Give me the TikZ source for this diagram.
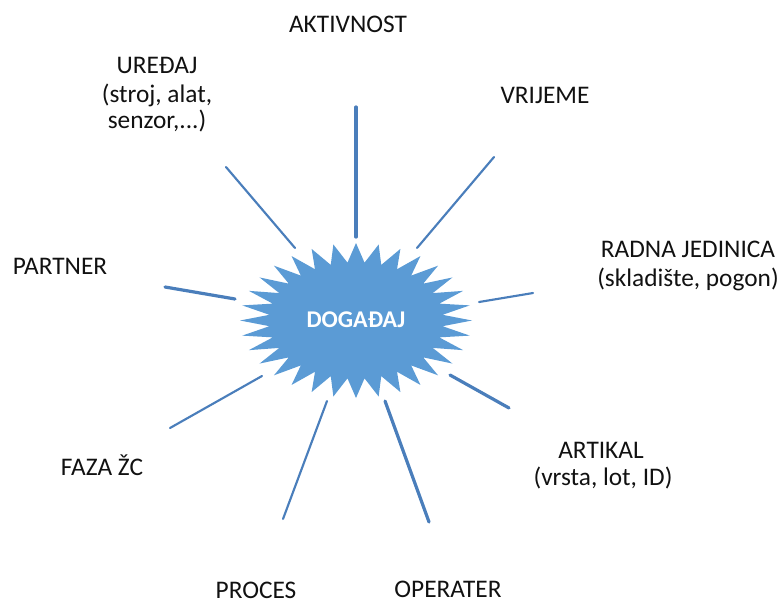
\documentclass[tikz,border=0pt]{standalone}
\usepackage{fontspec}
\setmainfont{Carlito}
\definecolor{starfill}{HTML}{5B9BD5}
\definecolor{rayblue}{HTML}{4A7EBB}
\definecolor{txt}{HTML}{111111}
\begin{document}
\begin{tikzpicture}[x=0.75pt,y=-0.75pt,
  lbl/.style={anchor=base,inner sep=0pt,text=txt,font=\fontsize{19}{23}\selectfont},
  ray/.style={draw=rayblue,line width=1.6pt,line cap=round},
  thickray/.style={draw=rayblue,line width=2.4pt,line cap=round}]
\useasboundingbox (0,0) rectangle (780,603);
% star
\fill[starfill] (356,243) \foreach \i in {1,...,63} {
  -- ({356+(0.875+0.125*cos(180*\i))*116*sin(\i*5.625)},{320.5-(0.875+0.125*cos(180*\i))*77.5*cos(\i*5.625)}) } -- cycle;
\node[inner sep=0pt,text=white,font=\fontsize{18}{22}\selectfont\bfseries] (event) at (356,320) {DOGAĐAJ};
% labels
\node[lbl] (akt) at (348,32) {AKTIVNOST};
\node[lbl] (ured1) at (157,73) {UREĐAJ};
\node[lbl] (ured2) at (157,102) {(stroj, alat,};
\node[lbl] (ured3) at (157,128) {senzor,...)};
\node[lbl] (vrij) at (545,103) {VRIJEME};
\node[lbl] (radna1) at (688,257) {RADNA JEDINICA};
\node[lbl] (radna2) at (688,286) {(skladište, pogon)};
\node[lbl] (art1) at (601,458) {ARTIKAL};
\node[lbl] (art2) at (603,485) {(vrsta, lot, ID)};
\node[lbl] (partner) at (60,274) {PARTNER};
\node[lbl] (faza) at (102,475) {FAZA ŽC};
\node[lbl] (proces) at (256,598) {PROCES};
\node[lbl] (oper) at (448,597) {OPERATER};
% ray end points
\coordinate (aktA) at (356,107); \coordinate (aktB) at (356,237);
\coordinate (uredA) at (226,167); \coordinate (uredB) at (295,248);
\coordinate (vrijA) at (494,157); \coordinate (vrijB) at (417,248);
\coordinate (radA) at (479,302); \coordinate (radB) at (533,293);
\coordinate (artA) at (450,375); \coordinate (artB) at (509,408);
\coordinate (opA) at (385,401); \coordinate (opB) at (429,522);
\coordinate (prA) at (327,401); \coordinate (prB) at (283,519);
\coordinate (fzA) at (262,376); \coordinate (fzB) at (170,428);
\coordinate (paA) at (165,287); \coordinate (paB) at (235,299);
% rays
\draw[thickray] (aktA) -- (aktB);
\draw[ray] (uredA) -- (uredB);
\draw[ray] (vrijA) -- (vrijB);
\draw[ray] (radA) -- (radB);
\draw[thickray] (artA) -- (artB);
\draw[thickray] (opA) -- (opB);
\draw[ray] (prA) -- (prB);
\draw[ray] (fzA) -- (fzB);
\draw[thickray] (paA) -- (paB);
\end{tikzpicture}
\end{document}
